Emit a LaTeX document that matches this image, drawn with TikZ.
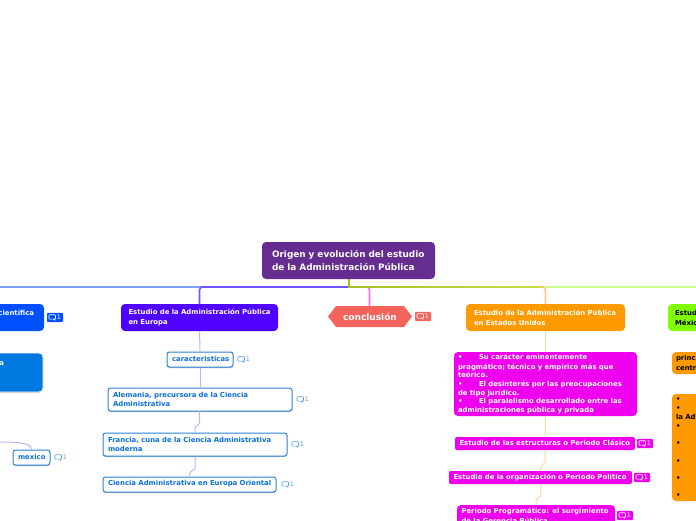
\documentclass[tikz,border=0pt]{standalone}
\usepackage{fontspec}
\setmainfont{DejaVu Sans}
\usetikzlibrary{shapes.symbols,shadows,calc}
\definecolor{rootc}{HTML}{662D91}
\definecolor{blueA}{HTML}{0050FF}
\definecolor{blueB}{HTML}{0078E0}
\definecolor{violet}{HTML}{5000FF}
\definecolor{salmon}{HTML}{F4645C}
\definecolor{orangeA}{HTML}{FF9A00}
\definecolor{mag}{HTML}{EE00EE}
\definecolor{lime}{HTML}{7FFF00}
\definecolor{subb}{HTML}{2A82D8}
\definecolor{subt}{HTML}{0A70E0}
\definecolor{subi}{HTML}{5AA0E0}
\definecolor{lilac}{HTML}{C4B0FF}
\definecolor{peach}{HTML}{FFD8A0}
\definecolor{pinkl}{HTML}{F070F0}
\definecolor{busA}{HTML}{7FA0FF}
\definecolor{busB}{HTML}{6E55FF}
\definecolor{busC}{HTML}{A8C020}
\definecolor{busD}{HTML}{C8E040}
\definecolor{busE}{HTML}{C8FF88}
\definecolor{stemO}{HTML}{FFC880}
\tikzset{
  box/.style={rounded corners=4pt,inner ysep=0pt,align=left,font=\bfseries\fontsize{6.9}{8.8}\selectfont},
  rootbox/.style={box,fill=rootc,text=white,font=\bfseries\fontsize{8.9}{11.3}\selectfont},
  whitebox/.style={box,fill=white,draw=subb,line width=1pt,text=subt,rounded corners=2.5pt,drop shadow={shadow xshift=0pt,shadow yshift=-1pt,fill=black!45,opacity=.6}},
  solid box/.style={box,text=white},
  conn/.style={line width=1pt,rounded corners=2pt},
  bus/.style={line width=1.6pt,rounded corners=3pt},
}
\newcommand{\bul}{\makebox[21pt][l]{•}}
\newcommand{\ml}[1]{\mbox{#1}}
% name, x1,y1,x2,y2, style, text, horizontal padding
\newcommand{\bx}[8]{%
  \pgfmathsetmacro{\bxw}{#4-#2}\pgfmathsetmacro{\bxh}{#5-#3}%
  \pgfmathsetmacro{\bxt}{\bxw-2*#8}%
  \node[#6,inner xsep=#8 pt,text width=\bxt pt,minimum height=\bxh pt] (#1) at ({(#2+#4)/2},{(#3+#5)/2}) {\vspace*{1pt}#7};%
}
\newcommand{\badge}[5]{%
  \begin{scope}[shift={(#1,#2)}]
    \fill[#4,rounded corners=1pt] (0,-4.7) rectangle (16,4.7);
    \draw[#3,line width=.65pt,rounded corners=.8pt] (2,-2.8) rectangle (8.5,1.6);
    \fill[#3] (6,1.6) -- (8,1.6) -- (8,3.2) -- cycle;
    \node[text=#5,inner sep=0pt,font=\fontsize{6.4}{6.4}\selectfont] (#1-num) at (12,0) {1};
  \end{scope}}
\begin{document}
\begin{tikzpicture}[x=1pt,y=-1pt]
\useasboundingbox (0,0) rectangle (696,520);
\clip (0,0) rectangle (696,520);

% connectors
\coordinate (busm) at (349,287);
\coordinate (mexfree) at (0,442);
\draw[bus,draw=busA] (busm) -- (0,287);
\draw[bus,draw=busB] (busm) -- (199.5,287) -- (199.5,304) coordinate (eurtop);
\draw[bus,draw=pinkl] (busm) -- (369.5,287) -- (369.5,306) coordinate (contop);
\draw[bus,draw=busE] (545.5,287) -- (696,287);
\shade[left color=busC,right color=busD] (349,286.2) rectangle (545,287.8);
\draw[bus,draw=stemO] (541,287) -- (545.5,287) -- (545.5,304) coordinate (usatop);
\fill[busC] (348.2,279) rectangle (349.8,287.8);

% nodes
\bx{root}{262}{242}{435}{279}{rootbox}{\ml{Origen y evolución del estudio}\\\ml{de la Administración Pública}}{10}
\bx{cient}{-100}{304}{44}{331}{solid box,fill=blueA}{\mbox{}\hfill científica\rule{1pt}{0pt}\\\mbox{}}{9}
\bx{blueb}{-100}{353}{43}{392}{solid box,fill=blueB,draw=white,line width=.8pt,drop shadow={shadow xshift=0pt,shadow yshift=-1pt,fill=black!40}}{\mbox{}\hfill a\rule{29pt}{0pt}\\\mbox{}\\\mbox{}}{10}
\bx{mex}{13}{450}{50}{465}{whitebox}{\ml{mexico}}{5}
\bx{eur}{121}{304}{278}{331}{solid box,fill=violet}{\ml{Estudio de la Administración Pública}\\\ml{en Europa}}{7.5}
\bx{car}{167}{352}{233}{367}{whitebox}{\ml{caracteristicas}}{5}
\bx{ale}{108}{388}{292}{411}{whitebox}{\ml{Alemania, precursora de la Ciencia}\\\ml{Administrativa}}{5}
\bx{fra}{103}{433}{287}{456}{whitebox}{\ml{Francia, cuna de la Ciencia Administrativa}\\\ml{moderna}}{5}
\bx{ori}{103}{477}{276}{492}{whitebox}{\ml{Ciencia Administrativa en Europa Oriental}}{5}
\node[signal,signal to=west and east,signal pointer angle=105,fill=salmon,text=white,minimum width=84pt,minimum height=21pt,inner xsep=0pt,inner ysep=0pt,font=\bfseries\fontsize{9}{10}\selectfont] (con) at (370,316.5) {conclusión};
\bx{usa}{466}{304}{625}{331}{solid box,fill=orangeA}{\ml{Estudio de la Administración Pública}\\\ml{en Estados Unidos}}{8}
\bx{prag}{454}{352}{637}{416}{solid box,fill=mag,font=\bfseries\fontsize{6.9}{8.6}\selectfont}{\ml{\bul Su carácter eminentemente}\\\ml{pragmático; técnico y empírico más que}\\\ml{teórico.}\\\ml{\bul El desinterés por las preocupaciones}\\\ml{de tipo jurídico.}\\\ml{\bul El paralelismo desarrollado entre las}\\\ml{administraciones pública y privada}}{4}
\bx{cla}{455}{437}{635}{450}{solid box,fill=mag,rounded corners=2pt}{\ml{Estudio de las estructuras o Periodo Clásico}}{4.5}
\bx{pol}{449}{471}{632}{484}{solid box,fill=mag,rounded corners=2pt}{\ml{Estudio de la organización o Periodo Político}}{4.5}
\bx{pro}{457}{505}{615}{526}{solid box,fill=mag}{\ml{Periodo Programático: el surgimiento}\\\ml{de la Gerencia Pública}}{4.5}
\bx{mxg}{668}{304}{860}{331}{box,fill=lime,text=black}{\ml{Estudio de la Administración Pública en}\\\ml{México}}{7}
\bx{pri}{672}{352}{860}{374}{box,fill=orangeA,text=black}{\ml{principales}\\\ml{centros}}{4}
\bx{big}{672}{394}{860}{501}{box,fill=orangeA,text=black}{•\\•\\\ml{la Administración}\\•\\[8.5pt]•\\[8.5pt]•\\[8.5pt]•\\[8.5pt]•}{4}

% tree connectors
\draw[conn,draw=lilac] (eur.south) -- (car.north);
\draw[conn,draw=lilac] (car.south) -- (car.south |- ale.north);
\draw[conn,draw=lilac] (199.5,411) -- (199.5,425) -- (195,426) -- (fra.north);
\draw[conn,draw=lilac] (fra.south) -- (195,470) -- (190,471) -- (ori.north);
\draw[conn,draw=peach] (usa.south) -- (prag.north);
\draw[conn,draw=peach] (prag.south) -- (cla.north);
\draw[conn,draw=peach] (cla.south) -- (545,464) -- (541,465) -- (pol.north);
\draw[conn,draw=peach] (pol.south) -- (541,497) -- (536,498) -- (pro.north);
\draw[conn,draw=lilac] (mexfree) .. controls (20,442) and (31,443) .. (mex.north);

% comment badges
\badge{47}{317.5}{white}{blueA}{white}
\badge{236}{359.5}{subi}{white}{subi}
\badge{295}{399.5}{subi}{white}{subi}
\badge{290}{444.5}{subi}{white}{subi}
\badge{280}{484.5}{subi}{white}{subi}
\badge{53}{457.5}{subi}{white}{subi}
\badge{415}{316.5}{white}{salmon}{white}
\badge{637}{443.5}{white}{mag}{white}
\badge{634}{477.5}{white}{mag}{white}
\badge{617}{515.5}{white}{mag}{white}
\end{tikzpicture}
\end{document}
